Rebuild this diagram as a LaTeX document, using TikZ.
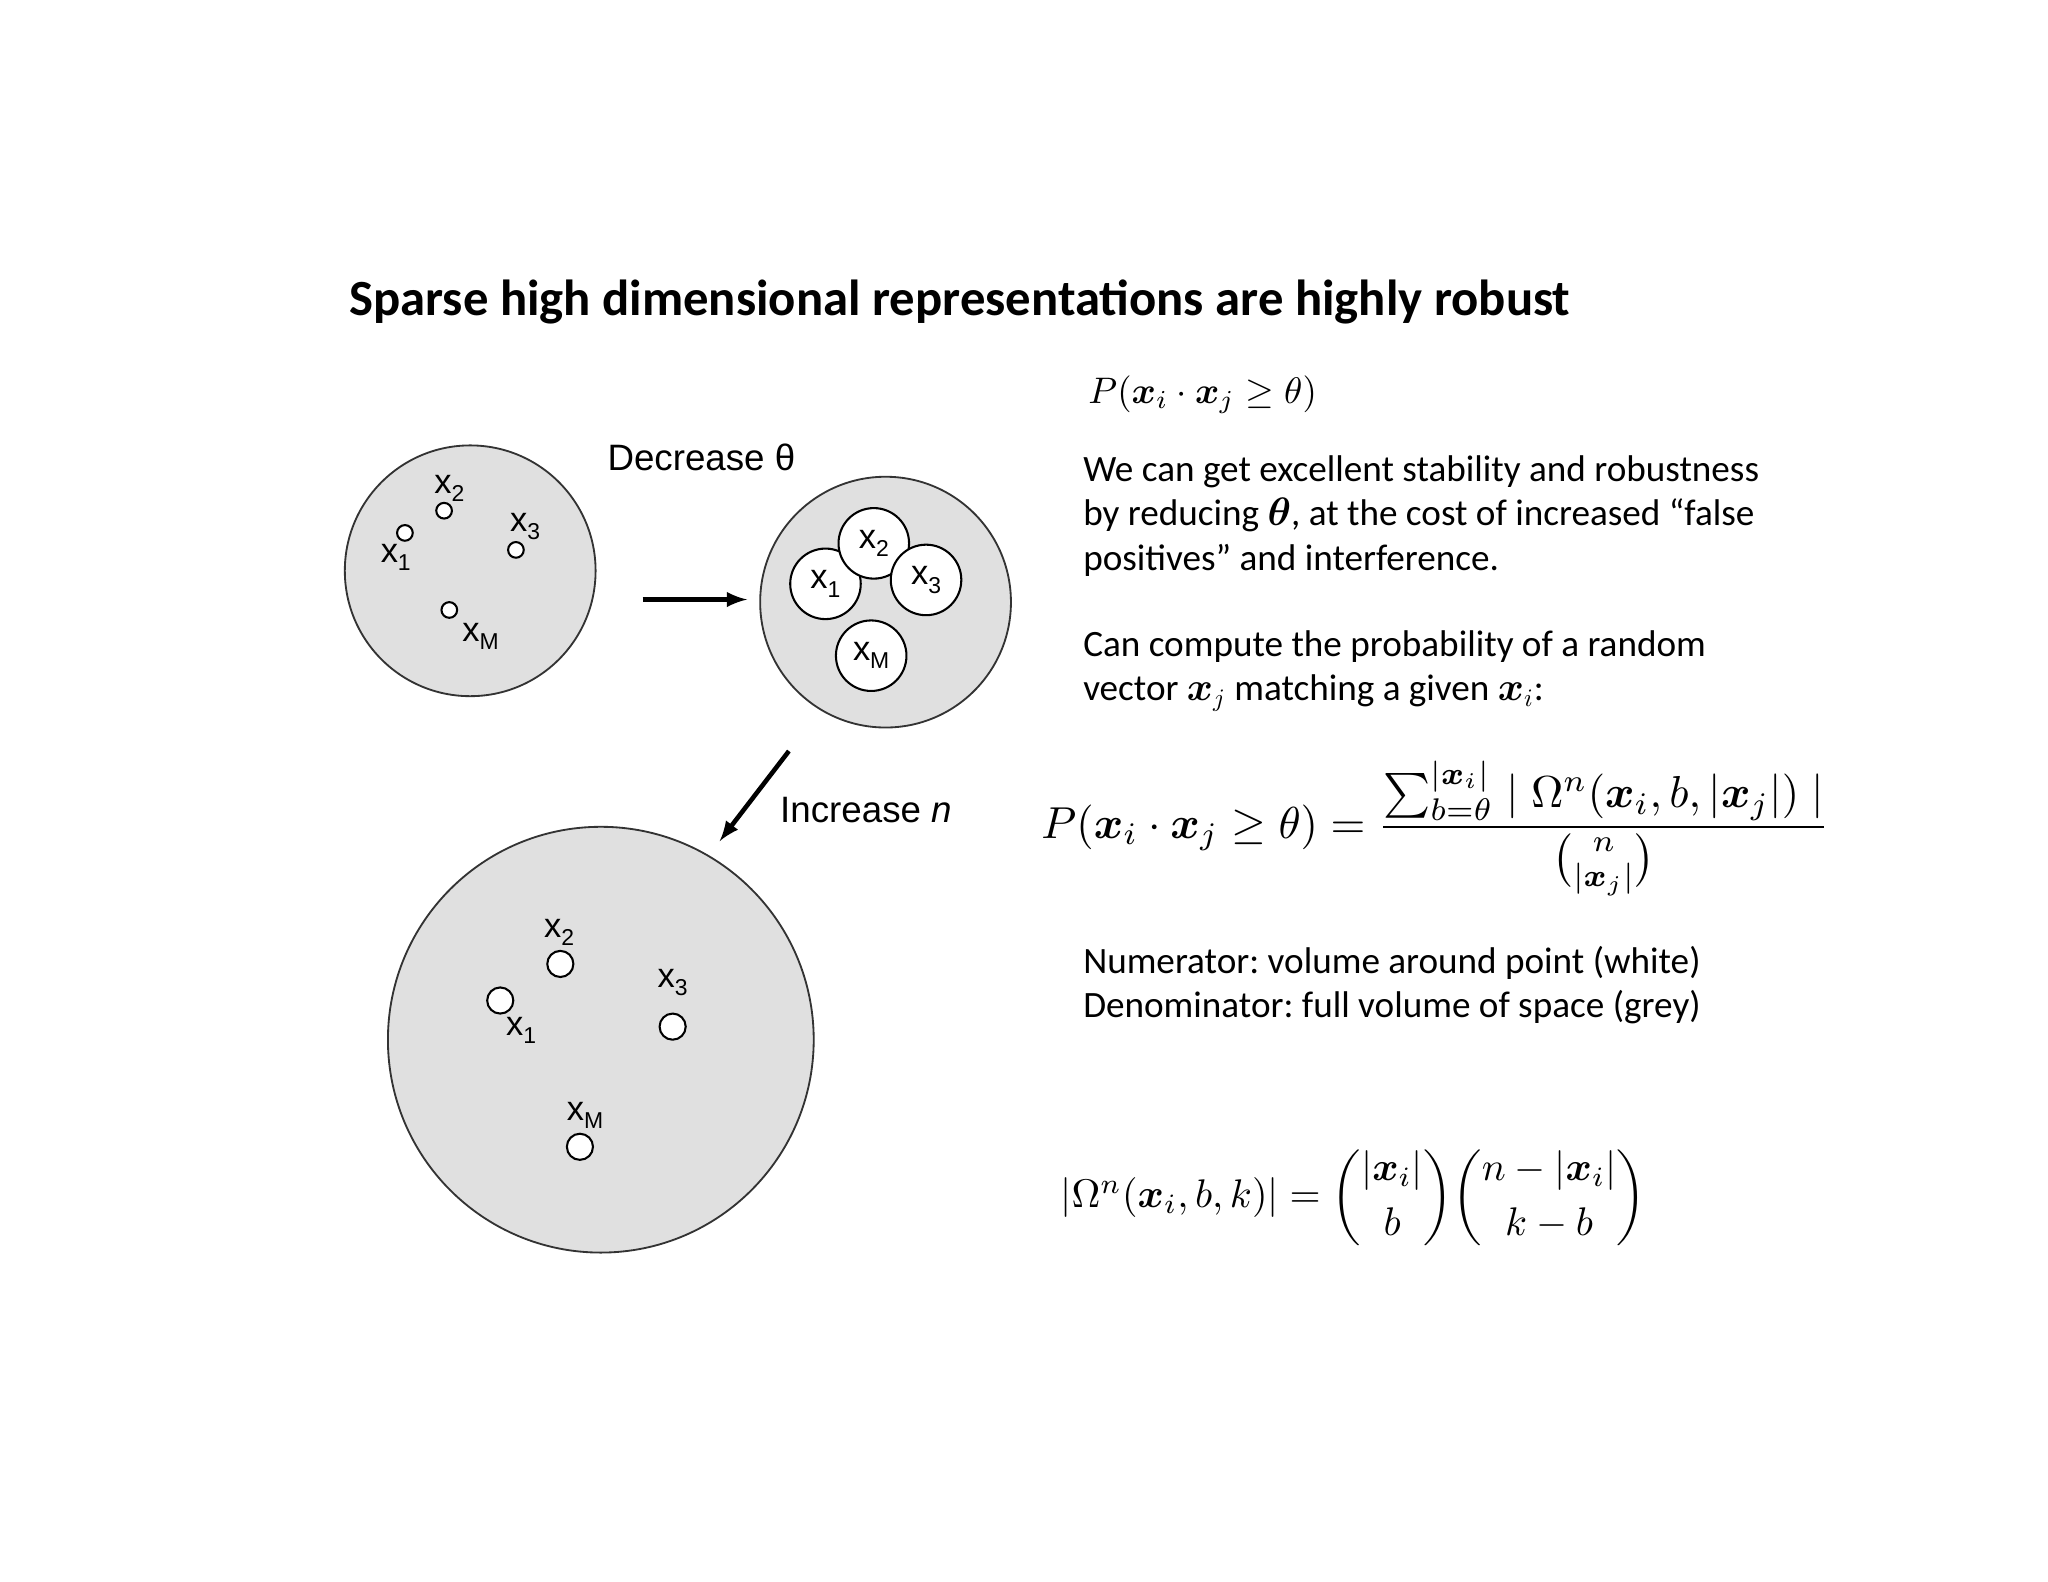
\documentclass[tikz,border=0pt]{standalone}
\usepackage{amsmath,bm,graphicx}
\usepackage{fontspec}
\setmainfont{Carlito}
\newfontfamily\arialf{Liberation Sans}
\newcommand{\sbx}[1]{\raisebox{-0.45ex}{\fontsize{10}{10}\selectfont #1}}
\frenchspacing
\begin{document}
\begin{tikzpicture}[x=0.02cm,y=-0.02cm,
  big/.style={circle,draw=black!80,fill=black!12,line width=0.8pt},
  dot/.style={circle,draw=black,fill=white,line width=0.9pt,inner sep=0pt},
  lab/.style={font=\arialf\fontsize{15}{15}\selectfont,inner sep=0pt},
  txt/.style={anchor=west,align=left,font=\fontsize{16.2}{19.3}\selectfont,inner sep=0pt},
  arr/.style={-latex,line width=2pt}]
\useasboundingbox (0,0) rectangle (1568,1211);
\node[anchor=west,font=\bfseries\fontsize{22.1}{22}\selectfont,inner sep=0pt] (title) at (267,231) {Sparse high dimensional representations are highly robust};
% circle 1
\node[big,minimum size=192*0.02cm] (c1) at (360,437) {};
\foreach \n/\x/\y in {a/310/408,b/340/391,c/395/421,d/344/467}
  \node[dot,minimum size=12*0.02cm] (s\n) at (\x,\y) {};
\node[lab] (l1) at (303,427) {x\sbx{1}};
\node[lab] (l2) at (344,374) {x\sbx{2}};
\node[lab] (l3) at (402,403) {x\sbx{3}};
\node[lab] (l4) at (368,487) {x\sbx{M}};
\node[font=\arialf\fontsize{16}{16}\selectfont] (dec) at (537,350) {Decrease θ};
\node (p1) at (492,459) {}; \node (p2) at (572,459) {};
\draw[arr] (p1.center) -- (p2.center);
% circle 2
\node[big,minimum size=192*0.02cm] (c2) at (678,461) {};
\foreach \n/\x/\y/\t in {a/632/447/1,b/669/416/2,c/709/444/3,d/667/502/M}
  \node[dot,minimum size=54*0.02cm,lab] (m\n) at (\x,\y) {x\sbx{\t}};
\node (p3) at (604,575) {}; \node (p4) at (551,644) {};
\draw[arr] (p3.center) -- (p4.center);
\node[anchor=west,font=\arialf\fontsize{16}{16}\selectfont,inner sep=0pt] (inc) at (597,620) {Increase \textit{n}};
% circle 3
\node[big,minimum size=326*0.02cm] (c3) at (460,796) {};
\foreach \n/\x/\y in {a/383/766,b/429/738,c/515/786,d/444/878}
  \node[dot,minimum size=20*0.02cm] (t\n) at (\x,\y) {};
\node[lab] (k2) at (428,714) {x\sbx{2}};
\node[lab] (k1) at (399,789) {x\sbx{1}};
\node[lab] (k3) at (515,752) {x\sbx{3}};
\node[lab] (k4) at (448,854) {x\sbx{M}};
% right side
\node[anchor=west,inner sep=0pt] (f1) at (833,302) {\scalebox{1.61}{$P(\bm{x}_i\cdot\bm{x}_j\geq\theta)$}};
\node[txt] (t1) at (829,395) {We can get excellent stability and robustness\\by reducing $\bm{\theta}$, at the cost of increased “false\\positives” and interference.};
\node[txt] (t2) at (829,514) {Can compute the probability of a random\\vector $\bm{x}_j$ matching a given $\bm{x}_i$:};
\node[inner sep=0pt] (f2) at (1099,634) {\scalebox{1.95}{$P(\bm{x}_i\cdot\bm{x}_j\geq\theta)=\dfrac{\sum_{b=\theta}^{|\bm{x}_i|}\mid\Omega^n(\bm{x}_i,b,|\bm{x}_j|)\mid}{\binom{n}{|\bm{x}_j|}}$}};
\node[txt] (t3) at (829,754) {Numerator: volume around point (white)\\Denominator: full volume of space (grey)};
\node[inner sep=0pt] (f3) at (1036,917) {\scalebox{1.74}{$|\Omega^n(\bm{x}_i,b,k)|=\dbinom{|\bm{x}_i|}{b}\dbinom{n-|\bm{x}_i|}{k-b}$}};
\end{tikzpicture}
\end{document}
